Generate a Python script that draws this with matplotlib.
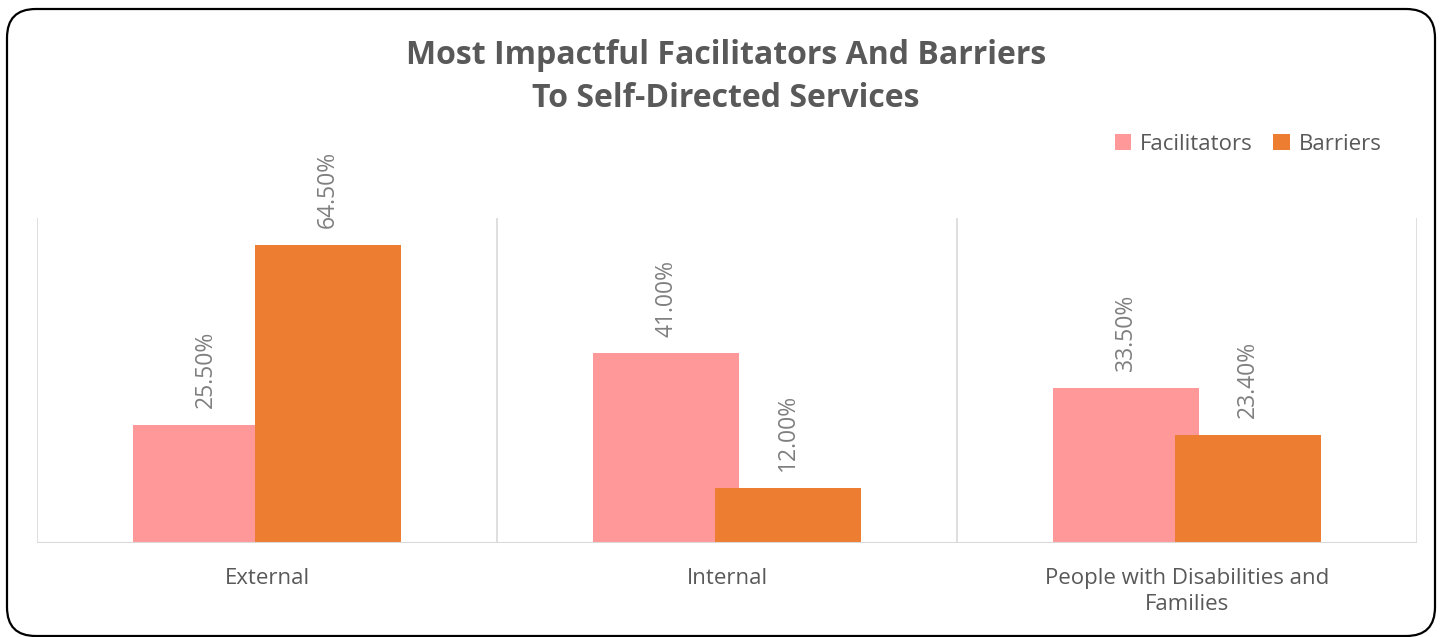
import matplotlib
matplotlib.use("Agg")
import matplotlib.pyplot as plt
from matplotlib.patches import FancyBboxPatch
import numpy as np

categories = ["External", "Internal", "People with Disabilities and\nFamilies"]
series_names = ["Facilitators", "Barriers"]
facilitators = [25.5, 41.0, 33.5]
barriers = [64.5, 12.0, 23.4]
colors = ["#FF9999", "#ED7D31"]

plt.rcParams['font.family'] = ['Open Sans', 'DejaVu Sans']

fig = plt.figure(figsize=(14.4, 6.37), dpi=100)
# rounded border
border = FancyBboxPatch((7/1440, 1/637), 1428/1440, 627/637,
                        boxstyle="round,pad=0,rounding_size=0.02",
                        transform=fig.transFigure, fill=False,
                        edgecolor="black", linewidth=1.6,
                        mutation_aspect=1440/637)
fig.patches.append(border)

ax = fig.add_axes([37/1440, 94/637, 1380/1440, 325/637])
x = np.arange(len(categories))
w = 0.317
off = 0.1325
ax.bar(x - off, facilitators, w, color=colors[0], label=series_names[0], zorder=2)
ax.bar(x + off, barriers, w, color=colors[1], label=series_names[1], zorder=3)

ax.set_xlim(-0.5, 2.5)
ax.set_ylim(0, 70.3)
for s in ax.spines.values():
    s.set_visible(False)
for xv in [-0.5, 0.5, 1.5, 2.5]:
    ax.axvline(xv, color="#D9D9D9", lw=1.2, zorder=1)
ax.axhline(0, color="#D9D9D9", lw=1.5, zorder=4)
ax.set_yticks([])
ax.set_xticks(x)
ax.set_xticklabels(categories, fontsize=16, color="#595959", linespacing=1.3)
ax.tick_params(axis='x', length=0, pad=18)

for vals, sgn in [(facilitators, -1), (barriers, 1)]:
    for xi, v in zip(x, vals):
        ax.annotate(f"{v:.2f}%", (xi + sgn*off, v), xytext=(0, 12),
                    textcoords="offset points", rotation=90,
                    ha="center", va="bottom", fontsize=16.5, color="#7F7F7F")

fig.text(726/1440, 1 - 77/637, "Most Impactful Facilitators And Barriers\nTo Self-Directed Services",
         ha="center", va="center", fontsize=23, fontweight="bold", color="#595959",
         linespacing=1.4)

leg = fig.legend(loc="center", bbox_to_anchor=(1248/1440, 1 - 144/637), ncol=2,
                 frameon=False, fontsize=16, handlelength=0.75, handleheight=0.75,
                 handletextpad=0.4, columnspacing=0.9)
for t in leg.get_texts():
    t.set_color("#595959")

fig.savefig("out.png", dpi=100)
